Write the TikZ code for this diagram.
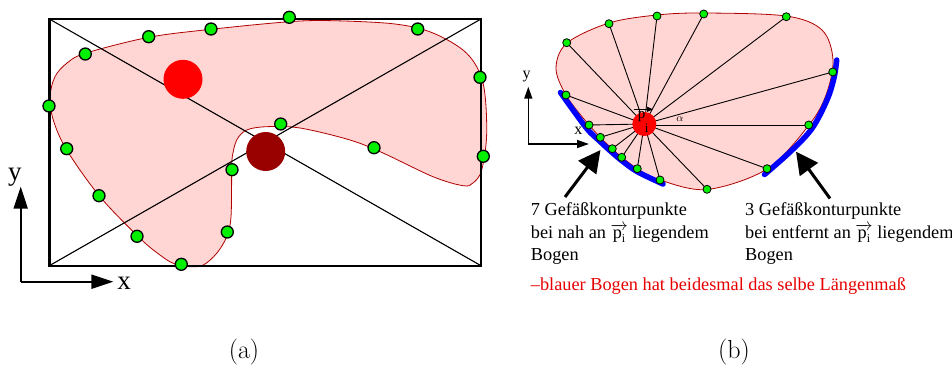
\documentclass[tikz,border=0pt]{standalone}
\usepackage{fontspec}
\newfontfamily\tms{Liberation Serif}
\usetikzlibrary{arrows.meta}
\definecolor{pinkfill}{RGB}{255,214,212}
\definecolor{outl}{RGB}{175,0,0}
\definecolor{gdot}{RGB}{0,240,0}
\definecolor{dred}{RGB}{153,0,0}
\definecolor{tred}{RGB}{230,0,0}
\newcommand\pvi{\smash{$\overrightarrow{\hbox{p}_{\hbox{\fontsize{12}{12}\selectfont i}}}$}}
\begin{document}
\begin{tikzpicture}[x=1pt,y=-1pt,
  shapefill/.style={fill=pinkfill, draw=outl, line width=0.8pt},
  gdotL/.style={circle, fill=gdot, draw=black, line width=1.3pt, minimum size=12pt, inner sep=0pt},
  gdotR/.style={circle, fill=gdot, draw=black, line width=0.8pt, minimum size=8pt, inner sep=0pt},
  framebox/.style={line width=2.4pt},
  diag/.style={line width=1.1pt},
  ray/.style={line width=0.9pt},
  bluearc/.style={draw=blue, line width=5.5pt, line cap=round},
  axisL/.style={line width=2pt, -{Triangle[length=22pt,width=14pt]}},
  axisR/.style={line width=1.5pt, -{Triangle[length=12pt,width=8pt]}},
  bigarrow/.style={line width=3pt, -{Triangle[length=22pt,width=22pt]}},
  lbl/.style={font=\tms\fontsize{18.3}{22}\selectfont, inner sep=0pt, anchor=base west},
  captxt/.style={font=\fontsize{26}{30}\selectfont, inner sep=0pt}
]
\useasboundingbox (0,0) rectangle (952,367);

% ===== panel (a) =====
\fill[pinkfill] plot[smooth cycle, tension=0.55] coordinates {
 (85.3,53.3) (148.7,37.3) (211,29.3) (289.3,21.7) (333,20.7) (395,24) (433,33) (466.7,53.3)
 (483,83) (486.7,133) (481.7,170) (473,183) (463,185.7) (433,176.7) (383,153) (350,140)
 (300,128) (266.7,126.7) (246.7,130) (236.7,140) (232.3,156.7) (231.7,170) (231,216.7)
 (226.7,236.7) (216.7,253.3) (203.3,265) (190,266.7) (173.3,263.3) (160,255) (140,238.3)
 (100,196.7) (66.7,150) (53.3,120) (50,96.7) (55,76.7) (66.7,63.3)};
\draw[outl, line width=0.8pt] plot[smooth cycle, tension=0.55] coordinates {
 (85.3,53.3) (148.7,37.3) (211,29.3) (289.3,21.7) (333,20.7) (395,24) (433,33) (466.7,53.3)
 (483,83) (486.7,133) (481.7,170) (473,183) (463,185.7) (433,176.7) (383,153) (350,140)
 (300,128) (266.7,126.7) (246.7,130) (236.7,140) (232.3,156.7) (231.7,170) (231,216.7)
 (226.7,236.7) (216.7,253.3) (203.3,265) (190,266.7) (173.3,263.3) (160,255) (140,238.3)
 (100,196.7) (66.7,150) (53.3,120) (50,96.7) (55,76.7) (66.7,63.3)};

\coordinate (TL) at (49.3,19);
\coordinate (TR) at (481,19);
\coordinate (BR) at (481,265.7);
\coordinate (BL) at (49.3,265.7);
\draw[diag] (TL) -- (BR);
\draw[diag] (BL) -- (TR);
\draw[framebox] (TL) rectangle (BR);

\node[circle, fill=red, minimum size=39pt, inner sep=0pt] (redc) at (183,79.3) {};
\node[circle, fill=dred, minimum size=39pt, inner sep=0pt] (dredc) at (265.7,151.5) {};

\foreach \n/\p in {a1/{289.3,17.3}, a2/{211,29}, a3/{148.7,36.7}, a4/{85.3,54}, a5/{49,106},
  a6/{66.7,148.7}, a7/{99,195.7}, a8/{137,236.3}, a9/{181.3,264.3}, a10/{227.3,232},
  a11/{232,169.7}, a12/{280.7,124}, a13/{374,147.7}, a14/{483.3,156.3}, a15/{480,77.3},
  a16/{417.7,29}}
  \node[gdotL] (\n) at (\p) {};

\coordinate (axo) at (20.7,281.7);
\coordinate (axy) at (20.7,186.7);
\coordinate (axx) at (113.3,281.7);
\draw[axisL] (axo) -- (axy);
\draw[axisL] (axo) -- (axx);
\node[font=\tms\fontsize{27}{30}\selectfont, inner sep=0pt] (ylab) at (15,177) {y};
\node[font=\tms\fontsize{27}{30}\selectfont, inner sep=0pt] (xlab) at (124,283) {x};

\node[captxt] (capa) at (244,352) {(a)};

% ===== panel (b) =====
\draw[shapefill] plot[smooth cycle, tension=0.55] coordinates {
 (556,68) (567,43) (609,23) (657,15) (704,13) (786,16) (822,30) (833,60) (826,95)
 (809,125) (767,169) (707,189.5) (660,180) (637,168.5) (612,148.7) (589,125) (566,95)};

\node[circle, minimum size=24pt, inner sep=0pt] (pc) at (644.3,124) {};

\foreach \n/\p in {r1/{566.7,42.7}, r2/{609,23.7}, r3/{657,16}, r4/{703.7,14}, r5/{786.3,16.7},
  r6/{832.7,72}, r7/{808.7,125}, r8/{767,168.7}, r9/{707,189.3}, r10/{660,180},
  r11/{637.3,168.7}, r12/{621.7,157.3}, r13/{612.3,148.7}, r14/{600.3,137.3},
  r15/{589,125}, r16/{566,95}}
  \coordinate (\n) at (\p);
\foreach \n in {r1,r2,r3,r4,r5,r6,r8,r9,r10,r11,r12,r13,r14,r15,r16}
  \draw[ray] (pc.center) -- (\n);
\draw[ray] (pc.center |- r7) -- (r7);

\draw[bluearc] plot[smooth, tension=0.55] coordinates {
 (560.5,92.5) (586,127.5) (599,140.5) (611,151.5) (621,160) (637,171.5) (663,184)};
\draw[bluearc] plot[smooth, tension=0.55] coordinates {
 (836.7,60) (834,78) (827,100) (812,128.5) (790,152) (764.5,174.5)};

\foreach \n in {r1,r2,r3,r4,r5,r6,r7,r8,r9,r10,r11,r12,r13,r14,r15,r16}
  \node[gdotR] at (\n) {};

\node[circle, fill=red, minimum size=24pt, inner sep=0pt] at (pc) {};
\node[font=\tms\fontsize{15}{15}\selectfont, inner sep=0pt] (pp) at (641.7,117) {p};
\node[font=\tms\fontsize{13}{13}\selectfont, inner sep=0pt] (pi) at (646.7,128.3) {i};
\coordinate (va) at (634.3,109.3);
\coordinate (vb) at (653,109.3);
\draw[line width=1pt, -{Triangle[length=6pt,width=5pt]}] (va) -- (vb);
\node[font=\fontsize{11}{11}\selectfont, inner sep=0pt] (alpha) at (680,119.5) {$\alpha$};

\coordinate (bo) at (528.3,144);
\coordinate (by) at (528.3,86.7);
\coordinate (bx) at (589,144);
\draw[axisR] (bo) -- (by);
\draw[axisR] (bo) -- (bx);
\node[font=\tms\fontsize{16}{16}\selectfont, inner sep=0pt] (ylb) at (526.5,77) {y};
\node[font=\tms\fontsize{16}{16}\selectfont, inner sep=0pt] (xlb) at (578.3,131) {x};

\coordinate (la0) at (565,197);
\coordinate (la1) at (600.5,150);
\coordinate (ra0) at (830,198.5);
\coordinate (ra1) at (796,151.7);
\draw[bigarrow] (la0) -- (la1);
\draw[bigarrow] (ra0) -- (ra1);

\node[lbl] (t1) at (530.7,215) {7 Gefäßkonturpunkte};
\node[lbl] (t2) at (530.7,238.3) {bei nah an \pvi\ liegendem};
\node[lbl] (t3) at (530.7,260) {Bogen};
\node[lbl] (u1) at (745,215) {3 Gefäßkonturpunkte};
\node[lbl] (u2) at (745,238.3) {bei entfernt an \pvi\ liegendem};
\node[lbl] (u3) at (745,260) {Bogen};
\node[lbl, text=tred] (red) at (530.7,290.7) {–blauer Bogen hat beidesmal das selbe Längenmaß};

\node[captxt] (capb) at (734,352) {(b)};
\end{tikzpicture}
\end{document}
